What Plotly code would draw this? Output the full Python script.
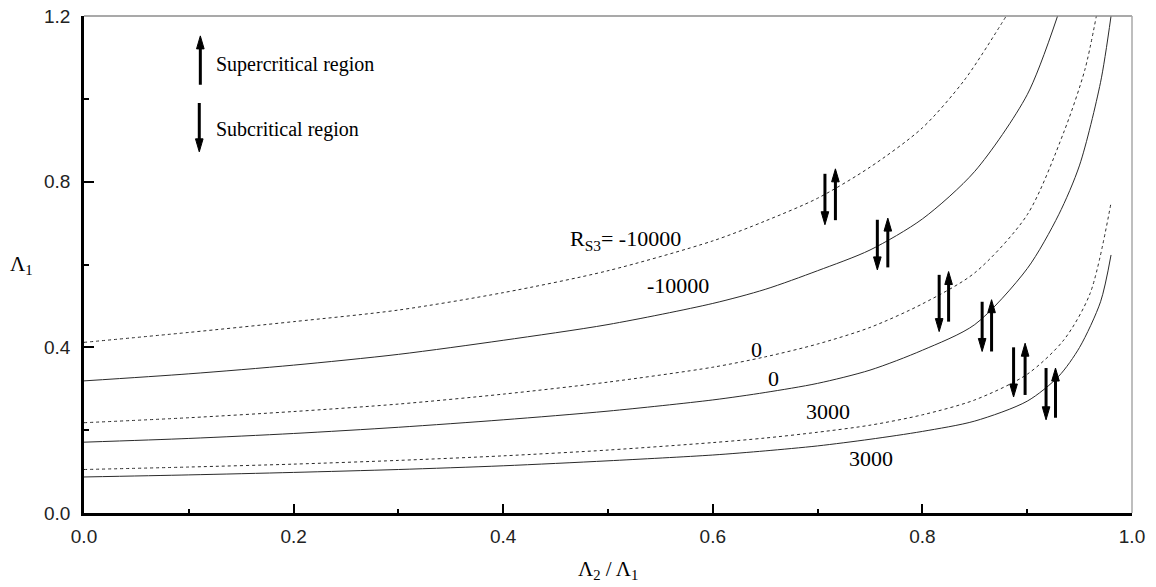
import plotly.graph_objects as go

# ---------------- data ----------------
# dashed curves
D1_x = [0, 0.1, 0.2, 0.3, 0.4, 0.5, 0.6, 0.65, 0.7, 0.75, 0.8, 0.84, 0.88]
D1_y = [0.412, 0.436, 0.462, 0.49, 0.532, 0.585, 0.657, 0.705, 0.76, 0.835, 0.93, 1.045, 1.2]
D2_x = [0, 0.1, 0.2, 0.3, 0.4, 0.5, 0.6, 0.65, 0.7, 0.75, 0.8, 0.85, 0.9, 0.935, 0.955, 0.966]
D2_y = [0.218, 0.23, 0.245, 0.263, 0.287, 0.316, 0.352, 0.377, 0.408, 0.448, 0.505, 0.58, 0.72, 0.92, 1.07, 1.2]
D3_x = [0, 0.1, 0.2, 0.3, 0.4, 0.5, 0.6, 0.65, 0.7, 0.75, 0.8, 0.85, 0.9, 0.935, 0.96, 0.98]
D3_y = [0.105, 0.111, 0.118, 0.127, 0.138, 0.152, 0.17, 0.181, 0.195, 0.212, 0.237, 0.273, 0.335, 0.418, 0.53, 0.749]
# solid curves
S1_x = [0, 0.1, 0.2, 0.3, 0.4, 0.5, 0.6, 0.65, 0.7, 0.75, 0.8, 0.85, 0.9, 0.929]
S1_y = [0.319, 0.336, 0.357, 0.383, 0.417, 0.455, 0.506, 0.54, 0.585, 0.635, 0.71, 0.825, 1.01, 1.2]
S2_x = [0, 0.1, 0.2, 0.3, 0.4, 0.5, 0.6, 0.65, 0.7, 0.75, 0.8, 0.85, 0.9, 0.93, 0.95, 0.97, 0.98]
S2_y = [0.171, 0.18, 0.192, 0.207, 0.225, 0.246, 0.273, 0.291, 0.313, 0.345, 0.393, 0.455, 0.59, 0.72, 0.84, 1.04, 1.2]
S3_x = [0, 0.1, 0.2, 0.3, 0.4, 0.5, 0.6, 0.65, 0.7, 0.75, 0.8, 0.85, 0.9, 0.93, 0.95, 0.97, 0.98]
S3_y = [0.087, 0.092, 0.098, 0.105, 0.114, 0.126, 0.14, 0.15, 0.162, 0.178, 0.197, 0.222, 0.27, 0.33, 0.40, 0.51, 0.623]

# arrow pairs: down arrow x, top, bottom ; up arrow x, bottom, top
down_x   = [0.707, 0.757, 0.816, 0.857, 0.887, 0.918]
down_top = [0.819, 0.708, 0.575, 0.510, 0.400, 0.350]
down_bot = [0.696, 0.587, 0.438, 0.390, 0.280, 0.225]
up_x     = [0.717, 0.767, 0.825, 0.866, 0.898, 0.927]
up_bot   = [0.707, 0.593, 0.462, 0.390, 0.285, 0.230]
up_top   = [0.831, 0.712, 0.583, 0.515, 0.410, 0.350]

# legend arrows (x, start, tip)
leg_up = (0.111, 1.034, 1.152)
leg_down = (0.110, 0.990, 0.872)

# curve labels
lab_text = ["R<sub>S3</sub>= -10000", "-10000", "0", "0", "3000", "3000"]
lab_x = [0.462, 0.567, 0.642, 0.658, 0.710, 0.751]
lab_y = [0.660, 0.549, 0.394, 0.325, 0.245, 0.132]
lab_anchor = ["left", "center", "center", "center", "center", "center"]

x_ticks = [0.0, 0.2, 0.4, 0.6, 0.8, 1.0]
y_ticks = [0.0, 0.4, 0.8, 1.2]

# ---------------- figure ----------------
W, H = 1156, 587
ML, MR, MT, MB = 84, 24, 16, 74
PW, PH = W - ML - MR, H - MT - MB
PX_X = PW / 1.0
PX_Y = PH / 1.2

fig = go.Figure()
line_col = "#2a2a2a"
for xs, ys in [(D1_x, D1_y), (D2_x, D2_y), (D3_x, D3_y)]:
    fig.add_trace(go.Scatter(x=xs, y=ys, mode="lines", line=dict(color=line_col, width=1, dash="3px,3px", shape="spline", smoothing=0.8), hoverinfo="skip"))
for xs, ys in [(S1_x, S1_y), (S2_x, S2_y), (S3_x, S3_y)]:
    fig.add_trace(go.Scatter(x=xs, y=ys, mode="lines", line=dict(color=line_col, width=1, shape="spline", smoothing=0.8), hoverinfo="skip"))

# arrows (shafts + heads)
HEAD_L = 13 / PX_Y
HEAD_W = 3.8 / PX_X
shaft_x, shaft_y, head_x, head_y = [], [], [], []
def add_arrow(x, y0, y1):
    d = 1 if y1 > y0 else -1
    base = y1 - d * HEAD_L
    shaft_x.extend([x, x, None]); shaft_y.extend([y0, base + d * HEAD_L * 0.3, None])
    head_x.extend([x - HEAD_W, x + HEAD_W, x, x - HEAD_W, None])
    head_y.extend([base, base, y1, base, None])

for i in range(len(down_x)):
    add_arrow(down_x[i], down_top[i], down_bot[i])
    add_arrow(up_x[i], up_bot[i], up_top[i])
add_arrow(leg_up[0], leg_up[1], leg_up[2])
add_arrow(leg_down[0], leg_down[1], leg_down[2])

fig.add_trace(go.Scatter(x=shaft_x, y=shaft_y, mode="lines", line=dict(color="black", width=3), hoverinfo="skip"))
fig.add_trace(go.Scatter(x=head_x, y=head_y, mode="lines", fill="toself", fillcolor="black", line=dict(color="black", width=1), hoverinfo="skip"))

serif = "Liberation Serif"
annots = []
for t, x, y, a in zip(lab_text, lab_x, lab_y, lab_anchor):
    annots.append(dict(x=x, y=y, xref="x", yref="y", text=t, showarrow=False, xanchor=a, yanchor="middle", font=dict(family=serif, size=22, color="black")))
annots.append(dict(x=leg_up[0] + 0.013, y=1.082, xref="x", yref="y", text="Supercritical region", showarrow=False, xanchor="left", yanchor="middle", font=dict(family=serif, size=20, color="black")))
annots.append(dict(x=leg_up[0] + 0.013, y=0.925, xref="x", yref="y", text="Subcritical region", showarrow=False, xanchor="left", yanchor="middle", font=dict(family=serif, size=20, color="black")))
# axis titles, placed by page pixel position
annots.append(dict(x=(21 - ML) / PW, y=(H - MB - 265) / PH, xref="paper", yref="paper", text="Λ<sub>1</sub>", showarrow=False, xanchor="center", yanchor="middle", font=dict(family=serif, size=21, color="black")))
annots.append(dict(x=0.5, y=(H - MB - 570) / PH, xref="paper", yref="paper", text="Λ<sub>2</sub> / Λ<sub>1</sub>", showarrow=False, xanchor="center", yanchor="middle", font=dict(family=serif, size=21, color="black")))

shapes = [
    dict(type="line", xref="paper", yref="paper", x0=0, x1=1, y0=1, y1=1, line=dict(color="#8c8c8c", width=1.5)),
    dict(type="line", xref="paper", yref="paper", x0=1, x1=1, y0=0, y1=1, line=dict(color="#a8a8a8", width=1.5)),
]

tickfont = dict(family="Liberation Sans", size=19, color="#222222")
fig.update_layout(
    width=W, height=H,
    margin=dict(l=ML, r=MR, t=MT, b=MB, autoexpand=False),
    paper_bgcolor="white", plot_bgcolor="white",
    showlegend=False,
    hovermode=False,
    annotations=annots,
    shapes=shapes,
    xaxis=dict(range=[0, 1], tickvals=x_ticks, ticktext=[f"{v:.1f}" for v in x_ticks], ticks="inside", ticklen=9, tickwidth=2, tickcolor="black",
               minor=dict(dtick=0.1, ticks="inside", ticklen=4, tickwidth=2, tickcolor="black"),
               showline=True, linewidth=2.5, linecolor="black", showgrid=False, zeroline=False, tickfont=tickfont,
               ticklabelstandoff=4, ticklabeloverflow="allow"),
    yaxis=dict(range=[0, 1.2], tickvals=y_ticks, ticktext=[f"{v:.1f}" for v in y_ticks], ticks="inside", ticklen=10, tickwidth=2, tickcolor="black",
               minor=dict(dtick=0.2, ticks="inside", ticklen=5, tickwidth=2, tickcolor="black"),
               showline=True, linewidth=2.5, linecolor="black", showgrid=False, zeroline=False, tickfont=tickfont,
               ticklabelstandoff=7, ticklabeloverflow="allow"),
)
# remove the default 8px page margin so the figure sits at the page origin
fig.write_html("out.html", config={"displayModeBar": False}, post_script="document.body.style.margin='0px';")
